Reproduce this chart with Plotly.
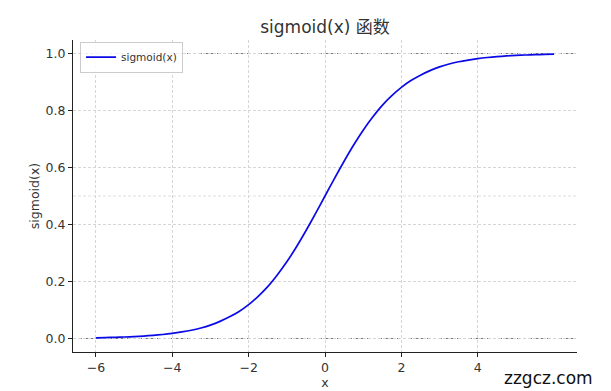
import plotly.graph_objects as go

# Data
x_vals = [-6, -5.75, -5.5, -5.25, -5, -4.75, -4.5, -4.25, -4, -3.75, -3.5, -3.25,
          -3, -2.75, -2.5, -2.25, -2, -1.75, -1.5, -1.25, -1, -0.75, -0.5, -0.25,
          0, 0.25, 0.5, 0.75, 1, 1.25, 1.5, 1.75, 2, 2.25, 2.5, 2.75,
          3, 3.25, 3.5, 3.75, 4, 4.25, 4.5, 4.75, 5, 5.25, 5.5, 5.75, 6]
y_vals = [0.0025, 0.0032, 0.0041, 0.0052, 0.0067, 0.0086, 0.011, 0.014, 0.018,
          0.023, 0.029, 0.037, 0.047, 0.060, 0.076, 0.095, 0.119, 0.148, 0.182,
          0.223, 0.269, 0.321, 0.378, 0.438, 0.5, 0.562, 0.622, 0.679, 0.731,
          0.777, 0.818, 0.852, 0.881, 0.905, 0.924, 0.940, 0.953, 0.963, 0.971,
          0.977, 0.982, 0.986, 0.989, 0.9914, 0.9933, 0.9948, 0.9959, 0.9968, 0.9975]
x_ticks = [-6, -4, -2, 0, 2, 4]
x_tick_text = ["−6", "−4", "−2", "0", "2", "4"]
y_ticks = [0.0, 0.2, 0.4, 0.6, 0.8, 1.0]
ref_lines = [0.0, 1.0]
mid_line = [0.5]

title_text = "sigmoid(x) 函数"
series_name = "sigmoid(x)"
font_family = "'DejaVu Sans', 'Noto Sans CJK SC', sans-serif"
text_color = "#333333"

fig = go.Figure()
fig.add_trace(go.Scatter(
    x=x_vals, y=y_vals, mode="lines", name=series_name,
    line=dict(color="#0a0ae6", width=1.7, shape="spline", smoothing=0.6),
))

for yv in ref_lines:
    fig.add_shape(type="line", xref="paper", x0=0, x1=1, yref="y", y0=yv, y1=yv,
                  line=dict(color="#7a7a7a", width=1, dash="dot"), layer="below")
for yv in mid_line:
    fig.add_shape(type="line", xref="paper", x0=0, x1=1, yref="y", y0=yv, y1=yv,
                  line=dict(color="#d6d6d6", width=0.8, dash="3px,2px"), layer="below")

fig.add_annotation(text="zzgcz.com", xref="paper", yref="paper", x=1.036, y=-0.083,
                   xanchor="right", yanchor="middle", showarrow=False,
                   font=dict(size=17, color="#111111", family=font_family))

axis_common = dict(
    showgrid=True, gridcolor="#d6d6d6", griddash="3px,2px", gridwidth=0.8,
    showline=True, linecolor="#222222", linewidth=1.2, mirror=False,
    ticks="outside", ticklen=4, tickcolor="#222222", tickwidth=1,
    tickfont=dict(size=12.5, color=text_color, family=font_family),
    zeroline=False, automargin=False,
)

fig.update_layout(
    width=603, height=383,
    margin=dict(l=65, r=34, t=32, b=39, autoexpand=False),
    paper_bgcolor="white", plot_bgcolor="white",
    font=dict(family=font_family, color=text_color),
    title=dict(text=title_text, xref="paper", x=0.5, xanchor="center",
               y=0.95, yanchor="middle",
               font=dict(size=17, color=text_color, family=font_family)),
    showlegend=True,
    legend=dict(x=0.014, y=0.995, xanchor="left", yanchor="top",
                bgcolor="rgba(255,255,255,0.85)", bordercolor="#cccccc", borderwidth=1,
                font=dict(size=10.5, color=text_color, family=font_family), itemwidth=30,
                tracegroupgap=0),
    xaxis=dict(
        range=[-6.6, 6.6], tickvals=x_ticks, ticktext=x_tick_text,
        title=dict(text="x", font=dict(size=12.5, color=text_color, family=font_family),
                   standoff=3),
        **axis_common,
    ),
    yaxis=dict(
        range=[-0.0474, 1.0474], tickvals=y_ticks, tickformat=".1f",
        title=dict(text="sigmoid(x)", font=dict(size=12.5, color=text_color, family=font_family),
                   standoff=3),
        **axis_common,
    ),
)

fig.write_html("out.html")
